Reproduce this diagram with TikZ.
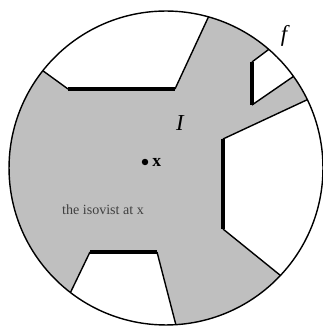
\documentclass[tikz,border=0pt]{standalone}
\usepackage{fontspec}
\setmainfont{Liberation Serif}
\usetikzlibrary{calc,positioning}

\begin{document}
\begin{tikzpicture}[x=0.02cm, y=0.02cm,
		bound/.style={draw, black, line width=0.8pt},
		wall/.style={draw, black, line width=2.6pt},
		void/.style={fill=white},
		tag/.style={inner sep=0pt, font=\fontsize{13}{13}\selectfont\itshape},
		spot/.style={circle, fill=black, inner sep=1.3pt}
		]
		\useasboundingbox (0,0) rectangle (322,327);
		\def\R{3.14cm}
		\coordinate (c) at (166,159);
		
		% openings: circle point, wall, circle point
		\coordinate (p1) at ($(c)+(141.7:\R)$);
		\coordinate (a1) at (68,238);
		\coordinate (b1) at (175,238);
		\coordinate (q1) at ($(c)+(74.3:\R)$);
		
		\coordinate (p2) at ($(c)+(49.1:\R)$);
		\coordinate (a2) at (252,265);
		\coordinate (b2) at (252,222);
		\coordinate (q2) at ($(c)+(35.7:\R)$);
		
		\coordinate (p3) at ($(c)+(25.8:\R)$);
		\coordinate (a3) at (223,188);
		\coordinate (b3) at (223,98);
		\coordinate (q3) at ($(c)+(-43.2:\R)$);
		
		\coordinate (p4) at ($(c)+(-127.5:\R)$);
		\coordinate (a4) at (90,75);
		\coordinate (b4) at (157,75);
		\coordinate (q4) at ($(c)+(-86.4:\R)$);
		
		\fill[black!25] (c) circle (\R);
		
		\fill[void] (p1) -- (a1) -- (b1) -- (q1) arc[start angle=74.3, end angle=141.7, radius=\R] -- cycle;
		\fill[void] (p2) -- (a2) -- (b2) -- (q2) arc[start angle=35.7, end angle=49.1, radius=\R] -- cycle;
		\fill[void] (p3) -- (a3) -- (b3) -- (q3) arc[start angle=-43.2, end angle=25.8, radius=\R] -- cycle;
		\fill[void] (p4) -- (a4) -- (b4) -- (q4) arc[start angle=-86.4, end angle=-127.5, radius=\R] -- cycle;
		
		\draw[bound] (p1) -- (a1);
		\draw[bound] (b1) -- (q1);
		\draw[bound] (p2) -- (a2);
		\draw[bound] (b2) -- (q2);
		\draw[bound] (p3) -- (a3);
		\draw[bound] (b3) -- (q3);
		\draw[bound] (p4) -- (a4);
		\draw[bound] (b4) -- (q4);
		
		\draw[wall] (a1) -- (b1);
		\draw[wall] (a2) -- (b2);
		\draw[wall] (a3) -- (b3);
		\draw[wall] (a4) -- (b4);
		
		\draw[bound] (c) circle (\R);
		
		\node [tag](f) at (284,291) {f};
		\node [tag](i) at (180,204) {I};
		\node [spot](x) at (145,165) {};
		\node [right=2pt of x, inner sep=0pt, font=\fontsize{10}{10}\selectfont\bfseries](xl) {x};
		\node [black!75, inner sep=0pt, font=\fontsize{8}{8}\selectfont](iso) at (103,117) {the isovist at x};
	\end{tikzpicture}
\end{document}
